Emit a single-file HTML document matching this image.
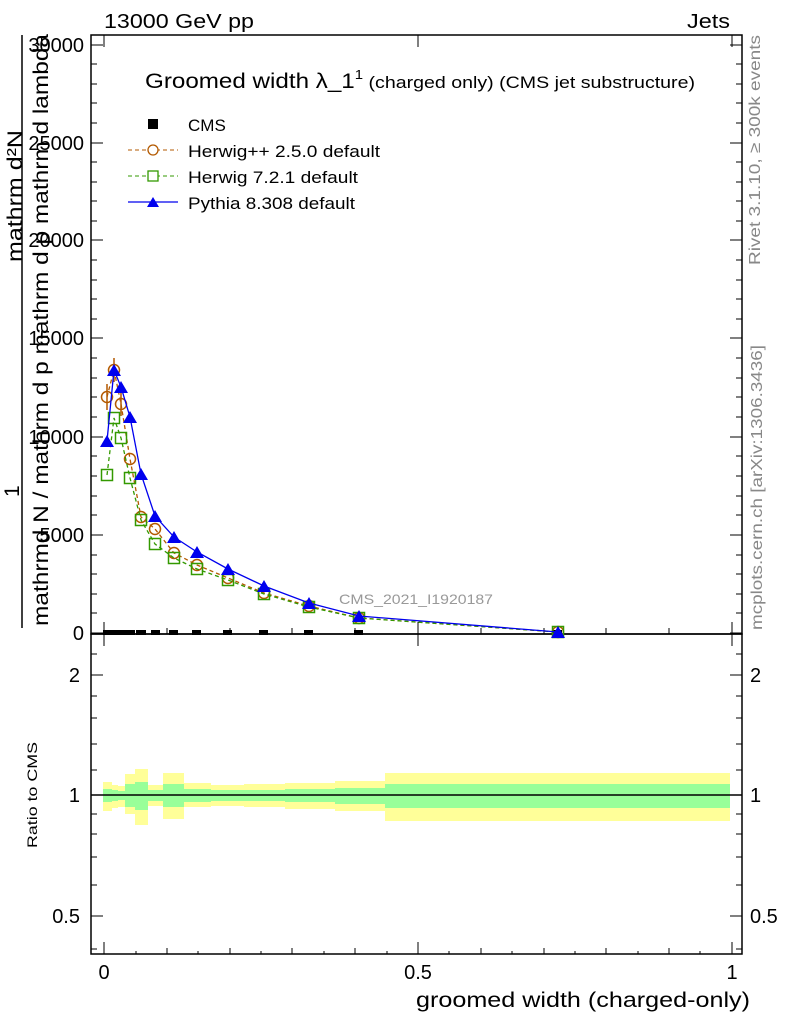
<!DOCTYPE html>
<html><head><meta charset="utf-8"><style>body{margin:0;background:#fff}svg{display:block}text{font-family:"Liberation Sans",sans-serif}</style></head><body>
<svg width="786" height="1024" viewBox="0 0 786 1024" xmlns="http://www.w3.org/2000/svg">
<rect width="786" height="1024" fill="#fff"/>
<text x="104" y="28" font-size="20" textLength="150" lengthAdjust="spacingAndGlyphs">13000 GeV pp</text>
<text x="687" y="28" font-size="20" textLength="43" lengthAdjust="spacingAndGlyphs">Jets</text>
<text transform="translate(760,265) rotate(-90)" font-size="16" fill="#888" textLength="230" lengthAdjust="spacingAndGlyphs">Rivet 3.1.10, ≥ 300k events</text>
<text transform="translate(762,630) rotate(-90)" font-size="16" fill="#888" textLength="285" lengthAdjust="spacingAndGlyphs">mcplots.cern.ch [arXiv:1306.3436]</text>
<g>
<rect x="103" y="782" width="9" height="29" fill="#ffff99"/><rect x="112" y="785" width="6" height="23" fill="#ffff99"/><rect x="118" y="786" width="7" height="21" fill="#ffff99"/>
<rect x="125" y="774" width="10" height="40" fill="#ffff99"/><rect x="135" y="769" width="13" height="56" fill="#ffff99"/><rect x="148" y="785" width="15" height="21" fill="#ffff99"/>
<rect x="163" y="773" width="21" height="46" fill="#ffff99"/><rect x="184" y="783" width="27" height="24" fill="#ffff99"/><rect x="211" y="785" width="33" height="21" fill="#ffff99"/>
<rect x="244" y="784" width="41" height="23" fill="#ffff99"/><rect x="285" y="783" width="50" height="26" fill="#ffff99"/><rect x="335" y="781" width="50" height="30" fill="#ffff99"/>
<rect x="385" y="773" width="345" height="48" fill="#ffff99"/>
<rect x="103" y="789" width="9" height="13" fill="#99ff99"/><rect x="112" y="790" width="6" height="11" fill="#99ff99"/><rect x="118" y="791" width="7" height="9" fill="#99ff99"/>
<rect x="125" y="784" width="10" height="23" fill="#99ff99"/><rect x="135" y="782" width="13" height="28" fill="#99ff99"/><rect x="148" y="790" width="15" height="11" fill="#99ff99"/>
<rect x="163" y="784" width="21" height="23" fill="#99ff99"/><rect x="184" y="789" width="27" height="13" fill="#99ff99"/><rect x="211" y="790" width="33" height="11" fill="#99ff99"/>
<rect x="244" y="790" width="41" height="11" fill="#99ff99"/><rect x="285" y="789" width="50" height="13" fill="#99ff99"/><rect x="335" y="788" width="50" height="16" fill="#99ff99"/>
<rect x="385" y="784" width="345" height="24" fill="#99ff99"/>
</g>
<line x1="91" y1="795" x2="742" y2="795" stroke="#000" stroke-width="1.5"/>
<rect x="91" y="35" width="651" height="599" fill="none" stroke="#000" stroke-width="1.5"/>
<rect x="91" y="634" width="651" height="320" fill="none" stroke="#000" stroke-width="1.5"/>
<g stroke="#000" stroke-width="1">
<path d="M91 633h12M91 535h12M91 437h12M91 338h12M91 240h12M91 143h12M91 45h12 M742 633h-12M742 535h-12M742 437h-12M742 338h-12M742 240h-12M742 143h-12M742 45h-12"/>
<path d="M91 613h6M91 594h6M91 574h6M91 555h6M91 515h6M91 496h6M91 476h6M91 456h6M91 417h6M91 397h6M91 378h6M91 358h6M91 319h6M91 299h6M91 280h6M91 260h6M91 221h6M91 201h6M91 182h6M91 162h6M91 123h6M91 103h6M91 84h6M91 64h6"/>
<path d="M742 613h-6M742 594h-6M742 574h-6M742 555h-6M742 515h-6M742 496h-6M742 476h-6M742 456h-6M742 417h-6M742 397h-6M742 378h-6M742 358h-6M742 319h-6M742 299h-6M742 280h-6M742 260h-6M742 221h-6M742 201h-6M742 182h-6M742 162h-6M742 123h-6M742 103h-6M742 84h-6M742 64h-6"/>
<path d="M104 634v-12M418 634v-12M732 634v-12M104 954v-12M418 954v-12M732 954v-12M104 35v12M418 35v12M732 35v12M104 634v12M418 634v12M732 634v12"/>
<path d="M167 634v-6M230 634v-6M292 634v-6M355 634v-6M481 634v-6M544 634v-6M606 634v-6M669 634v-6M167 954v-6M230 954v-6M292 954v-6M355 954v-6M481 954v-6M544 954v-6M606 954v-6M669 954v-6"/>
<path d="M136 954v-3M198 954v-3M261 954v-3M324 954v-3M387 954v-3M449 954v-3M512 954v-3M575 954v-3M638 954v-3M700 954v-3"/>
<path d="M91 675h12M91 795h12M91 916h12M742 675h-12M742 795h-12M742 916h-12"/>
<path d="M91 654h6M91 696h6M91 718h6M91 744h6M91 770h6M91 814h6M91 834h6M91 857h6M91 885h6M91 949h6 M742 654h-6M742 696h-6M742 718h-6M742 744h-6M742 770h-6M742 814h-6M742 834h-6M742 857h-6M742 885h-6M742 949h-6"/>
</g>
<g font-size="20" text-anchor="end">
<text x="84" y="640">0</text><text x="84" y="542">5000</text><text x="84" y="444">10000</text><text x="84" y="345">15000</text><text x="84" y="247">20000</text><text x="84" y="150">25000</text><text x="84" y="52">30000</text>
<text x="80" y="682">2</text><text x="80" y="802">1</text><text x="80" y="923">0.5</text>
</g>
<g font-size="20"><text x="750" y="682">2</text><text x="750" y="802">1</text><text x="750" y="923">0.5</text></g>
<g font-size="20" text-anchor="middle"><text x="104" y="979">0</text><text x="418" y="979">0.5</text><text x="732" y="979">1</text></g>
<text x="416" y="1007" font-size="21" textLength="334" lengthAdjust="spacingAndGlyphs">groomed width (charged-only)</text>
<text transform="translate(37,848) rotate(-90)" font-size="14" textLength="106" lengthAdjust="spacingAndGlyphs">Ratio to CMS</text>
<text transform="translate(22,262) rotate(-90)" font-size="21" textLength="132" lengthAdjust="spacingAndGlyphs">mathrm d²N</text>
<line x1="22" y1="35" x2="22" y2="628" stroke="#000" stroke-width="1.5"/>
<text transform="translate(19,497) rotate(-90)" font-size="21">1</text>
<text transform="translate(48,626) rotate(-90)" font-size="21" textLength="592" lengthAdjust="spacingAndGlyphs">mathrmd N / mathrm d p  mathrm d p  mathrm d lambda</text>
<text x="339" y="604" font-size="14" fill="#999" textLength="154" lengthAdjust="spacingAndGlyphs">CMS_2021_I1920187</text>
<text x="145" y="88" font-size="21" textLength="550" lengthAdjust="spacingAndGlyphs">Groomed width λ_1<tspan font-size="13" dy="-9">1</tspan><tspan font-size="17" dy="9"> (charged only) (CMS jet substructure)</tspan></text>
<rect x="148" y="119" width="10" height="10" fill="#000"/>
<text x="188" y="131" font-size="17">CMS</text>
<line x1="128" y1="150" x2="178" y2="150" stroke="#b35900" stroke-dasharray="4,3"/><circle cx="153" cy="150" r="5" fill="#fff" stroke="#b35900" stroke-width="1.3"/>
<text x="188" y="157" font-size="17" textLength="192" lengthAdjust="spacingAndGlyphs">Herwig++ 2.5.0 default</text>
<line x1="128" y1="176" x2="178" y2="176" stroke="#339900" stroke-dasharray="4,3"/><rect x="148" y="171" width="10" height="10" fill="#fff" stroke="#339900" stroke-width="1.3"/>
<text x="188" y="183" font-size="17" textLength="170" lengthAdjust="spacingAndGlyphs">Herwig 7.2.1 default</text>
<line x1="128" y1="202" x2="178" y2="202" stroke="#0000ee" stroke-width="1.3"/><path d="M147 207l6-10 6 10z" fill="#0000ee"/>
<text x="188" y="209" font-size="17" textLength="167" lengthAdjust="spacingAndGlyphs">Pythia 8.308 default</text>
<g fill="#000">
<rect x="103" y="630" width="9" height="5"/><rect x="112" y="630" width="6" height="5"/><rect x="118" y="630" width="7" height="5"/><rect x="125" y="630" width="10" height="5"/><rect x="136" y="630" width="10" height="5"/>
<rect x="151" y="630" width="9" height="5"/><rect x="169" y="630" width="9" height="5"/><rect x="192" y="630" width="9" height="5"/><rect x="223" y="630" width="9" height="5"/><rect x="259" y="630" width="9" height="5"/><rect x="304" y="630" width="9" height="5"/><rect x="354" y="630" width="9" height="5"/><rect x="553" y="630" width="9" height="5"/>
</g>
<polyline fill="none" stroke="#b35900" stroke-width="1.3" stroke-dasharray="4,3" points="107,397 114,370 121,404 130,459 141,517 155,529 174,553 197,565 228,578 264,593 309,606 359,618 558,632"/>
<g fill="none" stroke="#b35900" stroke-width="1.5">
<circle cx="107" cy="397" r="5.5"/><circle cx="114" cy="370" r="5.5"/><circle cx="121" cy="404" r="5.5"/><circle cx="130" cy="459" r="5.5"/><circle cx="141" cy="517" r="5.5"/><circle cx="155" cy="529" r="5.5"/><circle cx="174" cy="553" r="5.5"/><circle cx="197" cy="565" r="5.5"/><circle cx="228" cy="578" r="5.5"/><circle cx="264" cy="593" r="5.5"/><circle cx="309" cy="606" r="5.5"/><circle cx="359" cy="618" r="5.5"/><circle cx="558" cy="632" r="5.5"/>
<path d="M107 384v26M114 358v24M121 392v24"/>
</g>
<polyline fill="none" stroke="#339900" stroke-width="1.3" stroke-dasharray="4,3" points="107,475 114,418 121,438 130,478 141,520 155,544 174,558 197,569 228,580 264,594 309,607 359,618 558,632"/>
<g fill="none" stroke="#339900" stroke-width="1.5">
<rect x="101.5" y="469.5" width="11" height="11"/><rect x="108.5" y="412.5" width="11" height="11"/><rect x="115.5" y="432.5" width="11" height="11"/><rect x="124.5" y="472.5" width="11" height="11"/><rect x="135.5" y="514.5" width="11" height="11"/><rect x="149.5" y="538.5" width="11" height="11"/><rect x="168.5" y="552.5" width="11" height="11"/><rect x="191.5" y="563.5" width="11" height="11"/><rect x="222.5" y="574.5" width="11" height="11"/><rect x="258.5" y="588.5" width="11" height="11"/><rect x="303.5" y="601.5" width="11" height="11"/><rect x="353.5" y="612.5" width="11" height="11"/><rect x="552.5" y="626.5" width="11" height="11"/>
</g>
<polyline fill="none" stroke="#0000ee" stroke-width="1.3" points="107,441 114,370 121,387 130,417 141,474 155,516 174,537 197,552 228,569 264,586 309,603 359,616 558,632"/>
<g fill="#0000ee">
<path d="M100 447l7-12 7 12zM107 376l7-12 7 12zM114 393l7-12 7 12zM123 423l7-12 7 12zM134 480l7-12 7 12zM148 522l7-12 7 12zM167 543l7-12 7 12zM190 558l7-12 7 12zM221 575l7-12 7 12zM257 592l7-12 7 12zM302 609l7-12 7 12zM352 622l7-12 7 12zM551 638l7-12 7 12z"/>
</g>
</svg>
</body></html>
